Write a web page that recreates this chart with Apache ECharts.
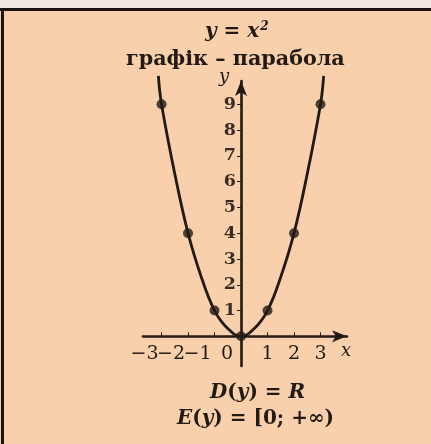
<!DOCTYPE html>
<html>
<head>
<meta charset="utf-8">
<script src="https://cdn.jsdelivr.net/npm/echarts@6/dist/echarts.min.js"></script>
<style>
  html, body { margin: 0; padding: 0; background: #f8d0ab; }
  #chart { width: 431px; height: 444px; }
</style>
</head>
<body>
<div id="chart"></div>
<script>
// точки, позначені на графіку
var pointX = [-3, -2, -1, 0, 1, 2, 3]
var pointY = [9, 4, 1, 0, 1, 4, 9]
// крива (разом з кінцями вище за 9)
var curveX = [-3.12, -3, -2.5, -2, -1.5, -1, -0.5, 0, 0.5, 1, 1.5, 2, 2.5, 3, 3.12]
var curveY = [10.1, 9, 6.3, 4, 2.3, 1, 0.3, 0, 0.3, 1, 2.3, 4, 6.3, 9, 10.1]
// підписи осей
var xTicks = [-3, -2, -1, 0, 1, 2, 3]
var xLabelsOdd = [-3, -1]
var xLabelsEven = [-2, 0]
var xLabelsRight = [1, 2, 3]
var yTicks = [1, 2, 3, 4, 5, 6, 7, 8, 9]
var xRange = [-3.7, 4]
var yRange = [-1.15, 9.9]

var ink = '#231a16'
var serif = 'DejaVu Serif'

var W = 431, H = 444
var gridL = 143, gridR = 84, gridT = 81, gridB = 78
// зсув осей до нуля
var xUnit = (W - gridL - gridR) / (xRange[1] - xRange[0])
var yUnit = (H - gridT - gridB) / (yRange[1] - yRange[0])
var xAxisOffset = yRange[0] * yUnit
var yAxisOffset = xRange[0] * xUnit

// вісь лише з підписами, зсунутими ліворуч від поділок (−3, −2, −1, 0)
function leftLabelAxis(values) {
  return {
    type: 'value',
    min: xRange[0],
    max: xRange[1],
    position: 'bottom',
    offset: xAxisOffset,
    splitLine: { show: false },
    axisLine: { show: false, onZero: false },
    axisTick: { show: false },
    axisLabel: {
      customValues: values,
      margin: 8,
      align: 'right',
      showMinLabel: true,
      showMaxLabel: true,
      hideOverlap: false,
      formatter: function (v) {
        return v === 0 ? '{z|0}' : '{n|−' + Math.abs(v) + '}'
      },
      rich: {
        n: { fontFamily: serif, fontSize: 19, color: ink, padding: [0, 3, 0, 0] },
        z: { fontFamily: serif, fontSize: 19, color: ink, padding: [0, 8, 0, 0] }
      }
    }
  }
}

var chart = echarts.init(document.getElementById('chart'))

var option = {
  backgroundColor: '#f8d0ab',
  animation: false,
  title: [
    {
      text: '{i|y} = {i|x}{s|2}',
      left: 200,
      top: 16,
      textStyle: {
        rich: {
          i: { fontFamily: serif, fontStyle: 'italic', fontWeight: 'bold', fontSize: 20, color: ink },
          s: { fontFamily: serif, fontStyle: 'italic', fontSize: 12, color: ink, verticalAlign: 'top', padding: [0, 0, 10, 1] }
        },
        fontFamily: serif,
        fontSize: 20,
        color: ink
      }
    },
    {
      text: '{n|графік – }{b|парабола}',
      left: 121,
      top: 44,
      textStyle: {
        rich: {
          n: { fontFamily: serif, fontSize: 20.7, color: ink },
          b: { fontFamily: serif, fontSize: 20.7, fontWeight: 'bold', color: ink }
        }
      }
    },
    {
      text: '{i|D}({i|y}) = {i|R}',
      left: 205,
      top: 378,
      textStyle: {
        fontFamily: serif, fontSize: 20, color: ink,
        rich: { i: { fontFamily: serif, fontStyle: 'italic', fontSize: 20, color: ink } }
      }
    },
    {
      text: '{i|E}({i|y}) = [0; +∞)',
      left: 172,
      top: 404,
      textStyle: {
        fontFamily: serif, fontSize: 20, color: ink,
        rich: { i: { fontFamily: serif, fontStyle: 'italic', fontSize: 20, color: ink } }
      }
    }
  ],
  grid: {
    left: gridL,
    right: gridR,
    top: gridT,
    bottom: gridB,
    containLabel: false
  },
  xAxis: [
    {
      type: 'value',
      min: xRange[0],
      max: xRange[1],
      position: 'bottom',
      offset: xAxisOffset,
      splitLine: { show: false },
      axisLine: {
        onZero: false,
        symbol: ['none', 'arrow'],
        symbolSize: [9, 15],
        lineStyle: { color: ink, width: 2.6 }
      },
      axisTick: {
        customValues: xTicks,
        inside: true,
        length: 4,
        lineStyle: { color: ink, width: 1 }
      },
      axisLabel: {
        customValues: xLabelsRight,
        margin: 8,
        fontFamily: serif,
        fontSize: 19,
        color: ink
      }
    },
    leftLabelAxis(xLabelsOdd),
    leftLabelAxis(xLabelsEven)
  ],
  yAxis: {
    type: 'value',
    min: yRange[0],
    max: yRange[1],
    position: 'left',
    offset: yAxisOffset,
    splitLine: { show: false },
    axisLine: {
      onZero: false,
      symbol: ['none', 'arrow'],
      symbolSize: [9, 15],
      lineStyle: { color: ink, width: 2.6 }
    },
    axisTick: {
      customValues: yTicks,
      inside: false,
      length: 4,
      lineStyle: { color: ink, width: 1 }
    },
    axisLabel: {
      customValues: yTicks,
      margin: 5,
      fontFamily: serif,
      fontSize: 17.5,
      fontWeight: 'bold',
      color: '#3a2c25'
    }
  },
  graphic: [
    // світла смуга та рамка
    { type: 'rect', shape: { x: 0, y: 0, width: 431, height: 8 }, style: { fill: '#f2e9e3' } },
    { type: 'rect', shape: { x: 0, y: 8, width: 431, height: 3 }, style: { fill: '#1c1512' } },
    { type: 'rect', shape: { x: 1, y: 8, width: 3, height: 436 }, style: { fill: '#1c1512' } },
    { type: 'text', left: 219, top: 68, style: { text: 'y', font: 'italic 18px "DejaVu Serif"', fill: ink } },
    { type: 'text', left: 341, top: 342, style: { text: 'x', font: 'italic 18px "DejaVu Serif"', fill: ink } }
  ],
  series: [
    {
      type: 'line',
      data: curveX.map(function (x, i) { return [x, curveY[i]] }),
      smooth: 0.4,
      clip: false,
      showSymbol: false,
      lineStyle: { color: ink, width: 2.8 },
      z: 3
    },
    {
      type: 'scatter',
      data: pointX.map(function (x, i) { return [x, pointY[i]] }),
      symbolSize: 10,
      itemStyle: { color: ink },
      z: 4
    }
  ]
}

chart.setOption(option)
</script>
</body>
</html>
